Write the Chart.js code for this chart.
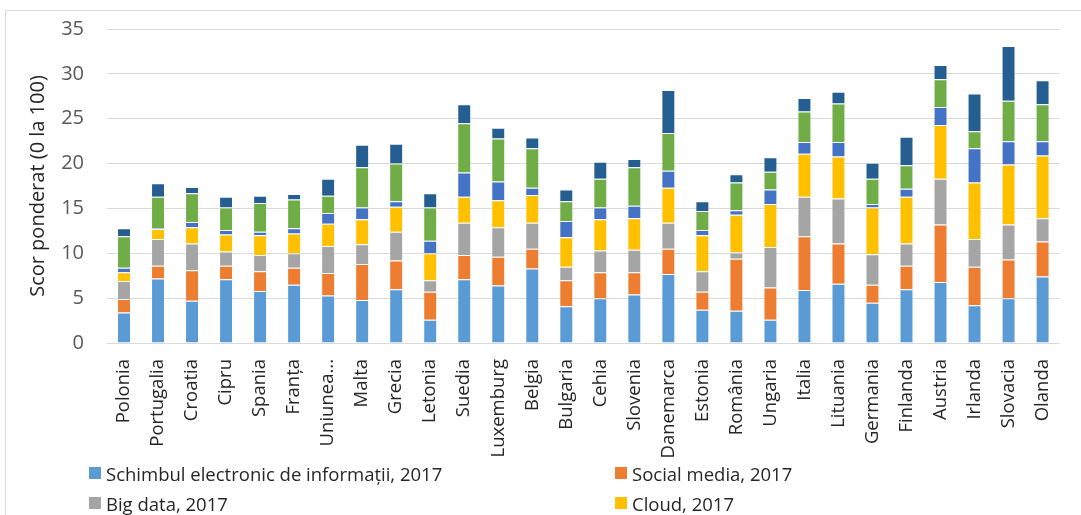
<!DOCTYPE html>
<html lang="ro">
<head>
<meta charset="utf-8">
<title>Scor ponderat – integrarea tehnologiilor digitale</title>
<script src="https://cdn.jsdelivr.net/npm/chart.js@4/dist/chart.umd.min.js"></script>
<style>
  html, body { margin: 0; padding: 0; background: #fff; }
  body { width: 1081px; height: 515px; overflow: hidden; position: relative; font-family: "Open Sans", sans-serif; }
  #frame { position: absolute; left: 5px; top: 10px; width: 1090px; height: 600px; border: 1px solid #d9d9d9; box-sizing: border-box; }
  #wrap { position: absolute; left: 0; top: 0; width: 1081px; height: 515px; }
  #legend { position: absolute; left: 89px; top: 458px; display: grid; grid-template-columns: 526px 420px; row-gap: 0; }
  .item { display: flex; align-items: center; height: 30px; font-size: 18.5px; color: #262626; white-space: nowrap; }
  .sw { width: 12px; height: 12px; margin-right: 5px; flex: none; }
</style>
</head>
<body>
<div id="frame"></div>
<div id="wrap"><canvas id="c" width="1081" height="515"></canvas></div>
<div id="legend"></div>
<script>
// Țări, ordonate crescător după scorul total
const tari = ["Polonia", "Portugalia", "Croatia", "Cipru", "Spania", "Franța", "Uniunea...",
  "Malta", "Grecia", "Letonia", "Suedia", "Luxemburg", "Belgia", "Bulgaria", "Cehia",
  "Slovenia", "Danemarca", "Estonia", "România", "Ungaria", "Italia", "Lituania",
  "Germania", "Finlanda", "Austria", "Irlanda", "Slovacia", "Olanda"];

// Componentele scorului ponderat (0 la 100), 2017
const schimbInformatii = [3.4, 7.2, 4.7, 7.1, 5.8, 6.5, 5.3, 4.8, 6.0, 2.6, 7.1, 6.4, 8.3, 4.1, 5.0, 5.4, 7.7, 3.7, 3.6, 2.6, 5.9, 6.6, 4.5, 6.0, 6.8, 4.2, 5.0, 7.4];
const socialMedia      = [1.5, 1.4, 3.4, 1.5, 2.2, 1.9, 2.5, 4.0, 3.2, 3.1, 2.7, 3.2, 2.2, 2.9, 2.9, 2.5, 2.8, 2.0, 5.8, 3.6, 6.0, 4.5, 2.0, 2.6, 6.4, 4.3, 4.3, 3.9];
const bigData          = [2.0, 3.0, 3.0, 1.6, 1.8, 1.6, 3.0, 2.2, 3.2, 1.3, 3.6, 3.3, 2.9, 1.5, 2.4, 2.5, 2.9, 2.3, 0.7, 4.5, 4.4, 5.0, 3.4, 2.5, 5.1, 3.1, 3.9, 2.6];
const cloud            = [1.0, 1.1, 1.8, 1.9, 2.2, 2.2, 2.5, 2.8, 2.8, 3.0, 2.9, 3.0, 3.1, 3.3, 3.5, 3.5, 3.9, 4.0, 4.2, 4.8, 4.8, 4.7, 5.2, 5.2, 6.0, 6.3, 6.7, 7.0];
const immOnline        = [0.5, 0.1, 0.6, 0.5, 0.4, 0.6, 1.2, 1.3, 0.6, 1.4, 2.7, 2.1, 0.8, 1.8, 1.3, 1.4, 1.9, 0.6, 0.5, 1.6, 1.3, 1.6, 0.4, 0.9, 2.0, 3.8, 2.6, 1.6];
const comertElectronic = [3.5, 3.5, 3.2, 2.5, 3.2, 3.2, 1.9, 4.5, 4.2, 3.7, 5.5, 4.8, 4.4, 2.2, 3.2, 4.3, 4.2, 2.1, 3.1, 2.0, 3.4, 4.3, 2.8, 2.6, 3.1, 1.9, 4.5, 4.1];
const vanzariTransfr   = [0.9, 1.5, 0.7, 1.2, 0.8, 0.6, 1.9, 2.5, 2.2, 1.6, 2.1, 1.2, 1.2, 1.3, 1.9, 0.9, 4.8, 1.1, 0.9, 1.6, 1.5, 1.3, 1.8, 3.2, 1.6, 4.2, 6.1, 2.7];

const numeSerii = [
  "Schimbul electronic de informații, 2017",
  "Social media, 2017",
  "Big data, 2017",
  "Cloud, 2017",
  "IMM-uri care vând online, 2017",
  "Cifra de afaceri din comerțul electronic, 2017",
  "Vânzări online transfrontaliere, 2017"
];
const culori = ["#5B9BD5", "#ED7D31", "#A5A5A5", "#FFC000", "#4472C4", "#70AD47", "#255E91"];
const valori = [schimbInformatii, socialMedia, bigData, cloud, immOnline, comertElectronic, vanzariTransfr];

const datasets = valori.map((v, i) => ({
  label: numeSerii[i],
  data: v,
  backgroundColor: culori[i],
  borderColor: "rgba(255,255,255,0.35)",
  borderWidth: 1,
  categoryPercentage: 1,
  barPercentage: 0.41
}));

new Chart(document.getElementById("c"), {
  type: "bar",
  data: { labels: tari, datasets },
  options: {
    responsive: false,
    devicePixelRatio: 1,
    animation: false,
    layout: { padding: { left: 24, top: 29, right: 12, bottom: 0 } },
    plugins: { legend: { display: false }, tooltip: { enabled: false } },
    scales: {
      x: {
        stacked: true,
        grid: { display: false, drawTicks: false },
        border: { display: false },
        ticks: {
          minRotation: 90, maxRotation: 90, autoSkip: false, padding: 16,
          color: "#262626", font: { family: "Open Sans", size: 18.5 }
        },
        afterFit: s => { s.height = 172; }
      },
      y: {
        stacked: true,
        min: 0, max: 35,
        // invisible tick marks keep the labels away from the plot without extra top padding
        grid: { color: "#d9d9d9", lineWidth: 1, drawTicks: true, tickLength: 20, tickColor: "rgba(0,0,0,0)" },
        border: { display: false },
        ticks: { stepSize: 5, padding: 3, color: "#595959", font: { family: "Open Sans", size: 20 } },
        title: { display: true, text: "Scor ponderat (0 la 100)", color: "#262626",
                 font: { family: "Open Sans", size: 20 }, padding: { top: 2, bottom: 4 } },
        afterFit: s => { s.width = 83; }
      }
    }
  }
});

// Legenda pe două coloane, în ordinea seriilor
const leg = document.getElementById("legend");
numeSerii.forEach((n, i) => {
  const d = document.createElement("div");
  d.className = "item";
  const sw = document.createElement("span");
  sw.className = "sw";
  sw.style.background = culori[i];
  d.appendChild(sw);
  d.appendChild(document.createTextNode(n));
  leg.appendChild(d);
});
</script>
</body>
</html>
